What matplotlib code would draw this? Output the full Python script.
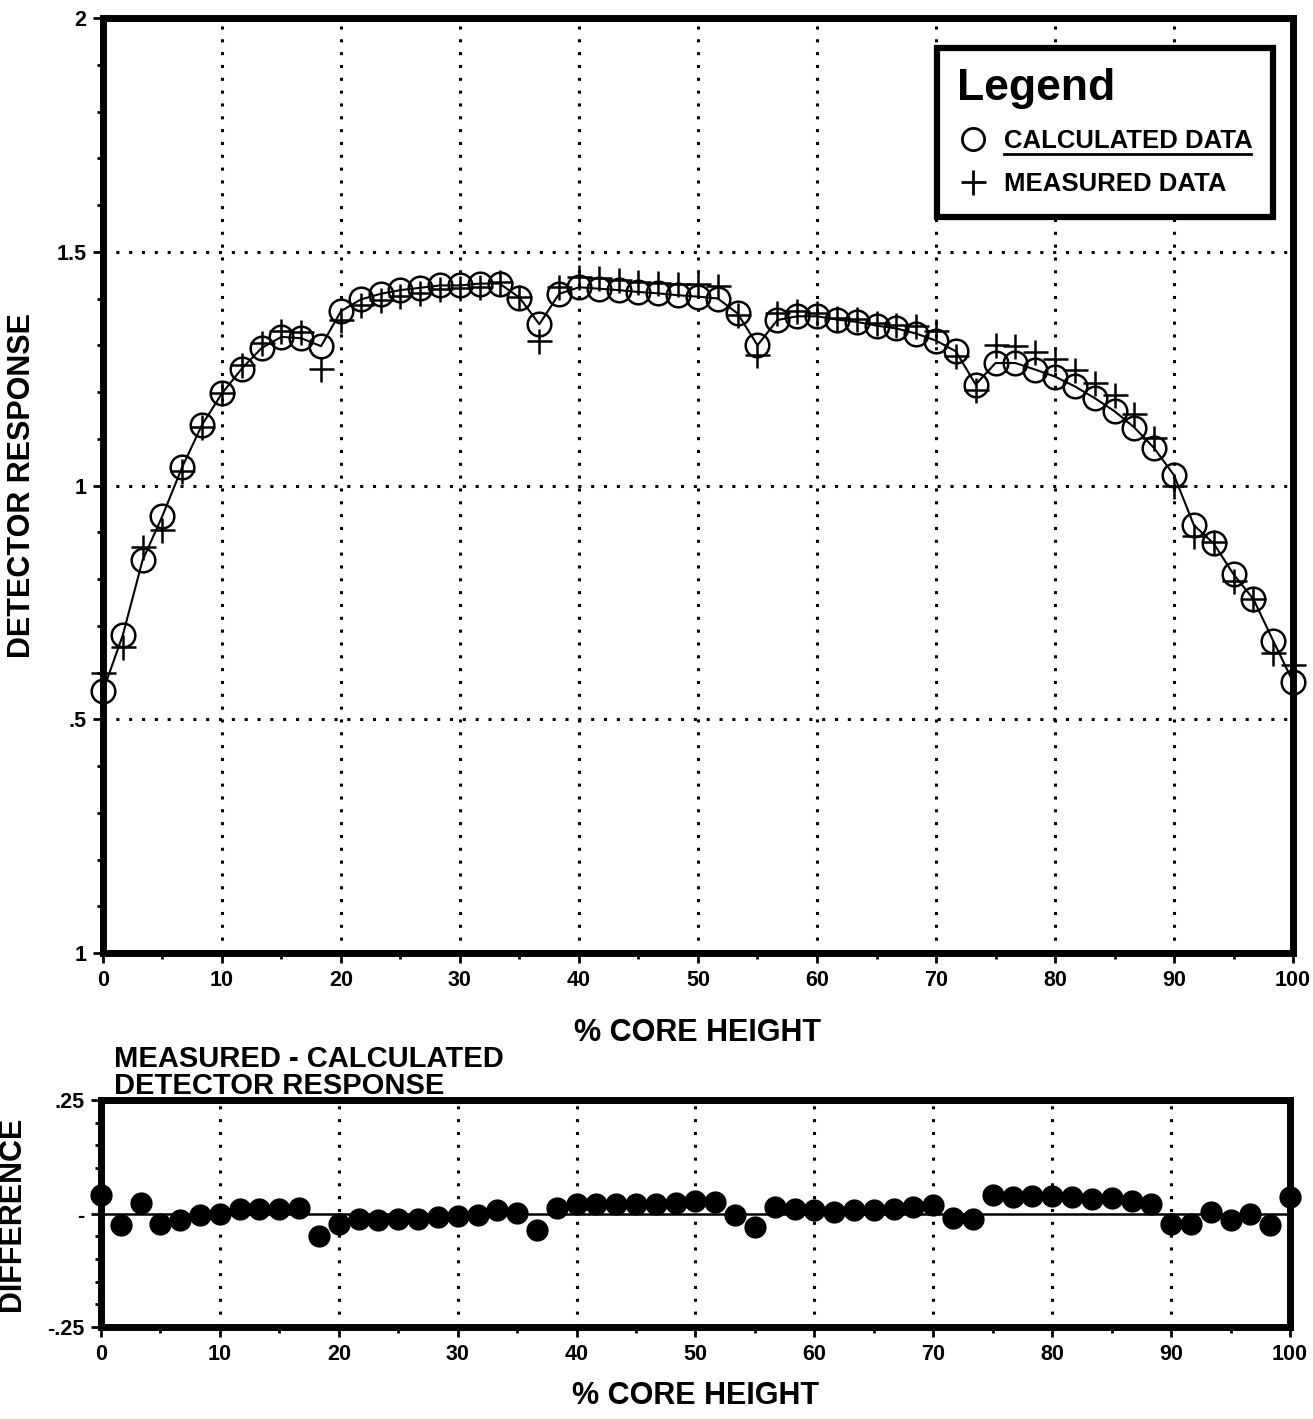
import matplotlib
matplotlib.use('Agg')
import matplotlib.pyplot as plt
from matplotlib.lines import Line2D
from matplotlib.ticker import MultipleLocator

plt.rcParams['font.family'] = ['Liberation Sans', 'DejaVu Sans']
plt.rcParams['font.weight'] = 'bold'

# % core height of each detector position
core_height = [0.0, 1.67, 3.33, 5.0, 6.67, 8.33, 10.0, 11.67, 13.33, 15.0,
               16.67, 18.33, 20.0, 21.67, 23.33, 25.0, 26.67, 28.33, 30.0, 31.67,
               33.33, 35.0, 36.67, 38.33, 40.0, 41.67, 43.33, 45.0, 46.67, 48.33,
               50.0, 51.67, 53.33, 55.0, 56.67, 58.33, 60.0, 61.67, 63.33, 65.0,
               66.67, 68.33, 70.0, 71.67, 73.33, 75.0, 76.67, 78.33, 80.0, 81.67,
               83.33, 85.0, 86.67, 88.33, 90.0, 91.67, 93.33, 95.0, 96.67, 98.33,
               100.0]

calculated = [0.56, 0.68, 0.84, 0.935, 1.04, 1.13, 1.197, 1.25, 1.294, 1.318,
              1.315, 1.298, 1.373, 1.398, 1.41, 1.418, 1.423, 1.428, 1.428, 1.432,
              1.432, 1.402, 1.345, 1.41, 1.424, 1.421, 1.418, 1.414, 1.411, 1.407,
              1.404, 1.40, 1.368, 1.30, 1.354, 1.362, 1.362, 1.355, 1.35, 1.342,
              1.336, 1.325, 1.31, 1.287, 1.216, 1.262, 1.262, 1.248, 1.233, 1.212,
              1.187, 1.159, 1.124, 1.08, 1.022, 0.915, 0.876, 0.81, 0.757, 0.668,
              0.58]

measured = [0.60, 0.655, 0.868, 0.905, 1.03, 1.125, 1.197, 1.258, 1.305, 1.33,
            1.328, 1.25, 1.355, 1.387, 1.397, 1.405, 1.412, 1.42, 1.422, 1.425,
            1.435, 1.403, 1.31, 1.425, 1.447, 1.443, 1.44, 1.436, 1.433, 1.431,
            1.43, 1.426, 1.364, 1.28, 1.37, 1.373, 1.37, 1.358, 1.356, 1.348,
            1.344, 1.342, 1.33, 1.278, 1.205, 1.30, 1.298, 1.285, 1.27, 1.248,
            1.22, 1.193, 1.152, 1.102, 1.0, 0.893, 0.88, 0.795, 0.757, 0.642,
            0.617]

# measured - calculated, as plotted in the lower panel
difference = [0.040, -0.026, 0.024, -0.024, -0.015, -0.004, 0.0, 0.009, 0.011, 0.011,
              0.013, -0.050, -0.022, -0.011, -0.015, -0.013, -0.011, -0.007, -0.006, -0.004,
              0.007, 0.001, -0.037, 0.013, 0.022, 0.022, 0.022, 0.022, 0.022, 0.024,
              0.027, 0.026, -0.004, -0.029, 0.015, 0.011, 0.007, 0.004, 0.007, 0.007,
              0.011, 0.015, 0.018, -0.010, -0.011, 0.040, 0.037, 0.038, 0.038, 0.037,
              0.033, 0.035, 0.028, 0.022, -0.022, -0.022, 0.004, -0.015, 0.0, -0.026,
              0.037]

x_ticks = [0, 10, 20, 30, 40, 50, 60, 70, 80, 90, 100]
top_yticks = [0, 0.5, 1, 1.5, 2]
top_ylabels = ['1', '.5', '1', '1.5', '2']
bot_yticks = [-0.25, 0, 0.25]
bot_ylabels = ['-.25', '-', '.25']

fig = plt.figure(figsize=(13.13, 14.19), dpi=100)
ax1 = fig.add_axes([0.0784, 0.3284, 0.9064, 0.6589])
ax2 = fig.add_axes([0.0769, 0.0648, 0.9056, 0.16])

dot = (0, (1, 3.2))

# upper panel
ax1.plot(core_height, calculated, color='black', lw=1.5, zorder=3)
ax1.plot(core_height, calculated, 'o', ms=17, mfc='none', mec='black', mew=1.8,
         zorder=4, clip_on=False)
ax1.plot(core_height, measured, '+', ms=18, mec='black', mew=1.8, zorder=5,
         clip_on=False)
ax1.set_xlim(0, 100)
ax1.set_ylim(0, 2)
ax1.set_xticks(x_ticks)
ax1.xaxis.set_minor_locator(MultipleLocator(5))
ax1.set_yticks(top_yticks)
ax1.set_yticklabels(top_ylabels)
ax1.yaxis.set_minor_locator(MultipleLocator(0.1))
ax1.grid(True, which='major', color='black', linestyle=dot, lw=2.2)
ax1.set_xlabel('% CORE HEIGHT', fontsize=22, fontweight='bold', labelpad=20)
ax1.set_ylabel('DETECTOR RESPONSE', fontsize=22, fontweight='bold', labelpad=14)

leg_handles = [
    Line2D([], [], marker='o', ls='none', ms=16, mfc='none', mec='black', mew=2),
    Line2D([], [], marker='+', ls='none', ms=18, mec='black', mew=2),
]
leg = ax1.legend(leg_handles, ['CALCULATED DATA', 'MEASURED DATA'],
                 title='Legend', loc='upper right', bbox_to_anchor=(0.983, 0.968),
                 prop={'size': 18.5, 'weight': 'bold'},
                 title_fontproperties={'size': 32, 'weight': 'bold'},
                 alignment='left', fancybox=False, framealpha=1,
                 borderpad=0.8, labelspacing=0.75, handletextpad=0.6,
                 handlelength=1.2, borderaxespad=0)
leg.get_frame().set_edgecolor('black')
leg.get_frame().set_linewidth(4.5)
# underline under the first legend entry, as in the original
ax1.plot([0.757, 0.965], [0.855, 0.855], transform=ax1.transAxes,
         color='black', lw=2, zorder=10)

# lower panel
ax2.axhline(0, color='black', lw=1.8, zorder=2)
ax2.plot(core_height, difference, 'o', ms=15, color='black', zorder=3,
         clip_on=False)
ax2.set_xlim(0, 100)
ax2.set_ylim(-0.25, 0.25)
ax2.set_xticks(x_ticks)
ax2.xaxis.set_minor_locator(MultipleLocator(5))
ax2.set_yticks(bot_yticks)
ax2.set_yticklabels(bot_ylabels)
ax2.yaxis.set_minor_locator(MultipleLocator(0.05))
ax2.grid(True, axis='x', which='major', color='black', linestyle=dot, lw=2.2)
ax2.set_xlabel('% CORE HEIGHT', fontsize=22, fontweight='bold', labelpad=12)
ax2.set_ylabel('DIFFERENCE', fontsize=22, fontweight='bold', labelpad=14)
ax2.set_title('MEASURED - CALCULATED\nDETECTOR RESPONSE', loc='left',
              fontsize=21, fontweight='bold', x=0.011, pad=1,
              linespacing=0.95)

for ax in (ax1, ax2):
    for sp in ax.spines.values():
        sp.set_linewidth(5)
        sp.set_color('black')
    ax.tick_params(which='major', direction='out', length=7, width=2,
                   labelsize=15.5, pad=5)
    ax.tick_params(which='minor', direction='out', length=4, width=2)
    for lab in ax.get_xticklabels() + ax.get_yticklabels():
        lab.set_fontweight('bold')
    ax.set_axisbelow(True)

fig.savefig('out.png', dpi=100, facecolor='white')
